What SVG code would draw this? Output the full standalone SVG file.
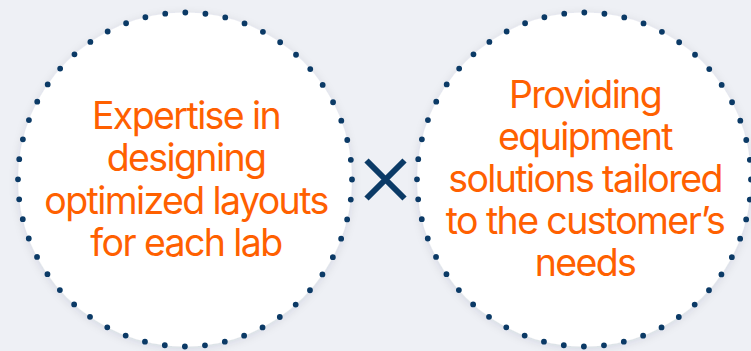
<svg xmlns="http://www.w3.org/2000/svg" width="751" height="351" viewBox="0 0 751 351">
  <style>
    .bg { fill: #eef0f5; }
    .disc { fill: #ffffff; filter: url(#shadow); }
    .dots { fill: none; stroke: #0b3a66; stroke-width: 5.8; stroke-linecap: round; stroke-dasharray: 0 20.179; }
    .label { font-family: Inter, "Noto Sans", "Liberation Sans", sans-serif; font-size: 37.5px; font-weight: 400; fill: #ff6000; text-anchor: middle; letter-spacing: -1.6px; }
    .times { stroke: #0b3a66; stroke-width: 6; fill: none; }
  </style>
  <defs>
    <filter id="shadow" x="-20%" y="-20%" width="140%" height="140%">
      <feDropShadow dx="0" dy="2" stdDeviation="5" flood-color="#1a2b4a" flood-opacity="0.12"/>
    </filter>
  </defs>
  <rect class="bg" x="0" y="0" width="751" height="351"/>
  <g id="node-left">
    <circle class="disc" cx="185" cy="179.5" r="167"/>
    <circle class="dots" cx="185" cy="179.5" r="167"/>
    <text class="label" x="186" y="128.5">Expertise in</text>
    <text class="label" x="186" y="171">designing</text>
    <text class="label" x="186" y="213.5">optimized layouts</text>
    <text class="label" x="186" y="256">for each lab</text>
  </g>
  <g id="node-right">
    <circle class="disc" cx="584" cy="179.5" r="167"/>
    <circle class="dots" cx="584" cy="179.5" r="167"/>
    <text class="label" x="585" y="108">Providing</text>
    <text class="label" x="585" y="150">equipment</text>
    <text class="label" x="585" y="192">solutions tailored</text>
    <text class="label" x="585" y="234">to the customer’s</text>
    <text class="label" x="585" y="276">needs</text>
  </g>
  <g id="connectors">
    <path class="times" d="M366.5 160.5 L404.5 198.5 M404.5 160.5 L366.5 198.5"/>
  </g>
</svg>
